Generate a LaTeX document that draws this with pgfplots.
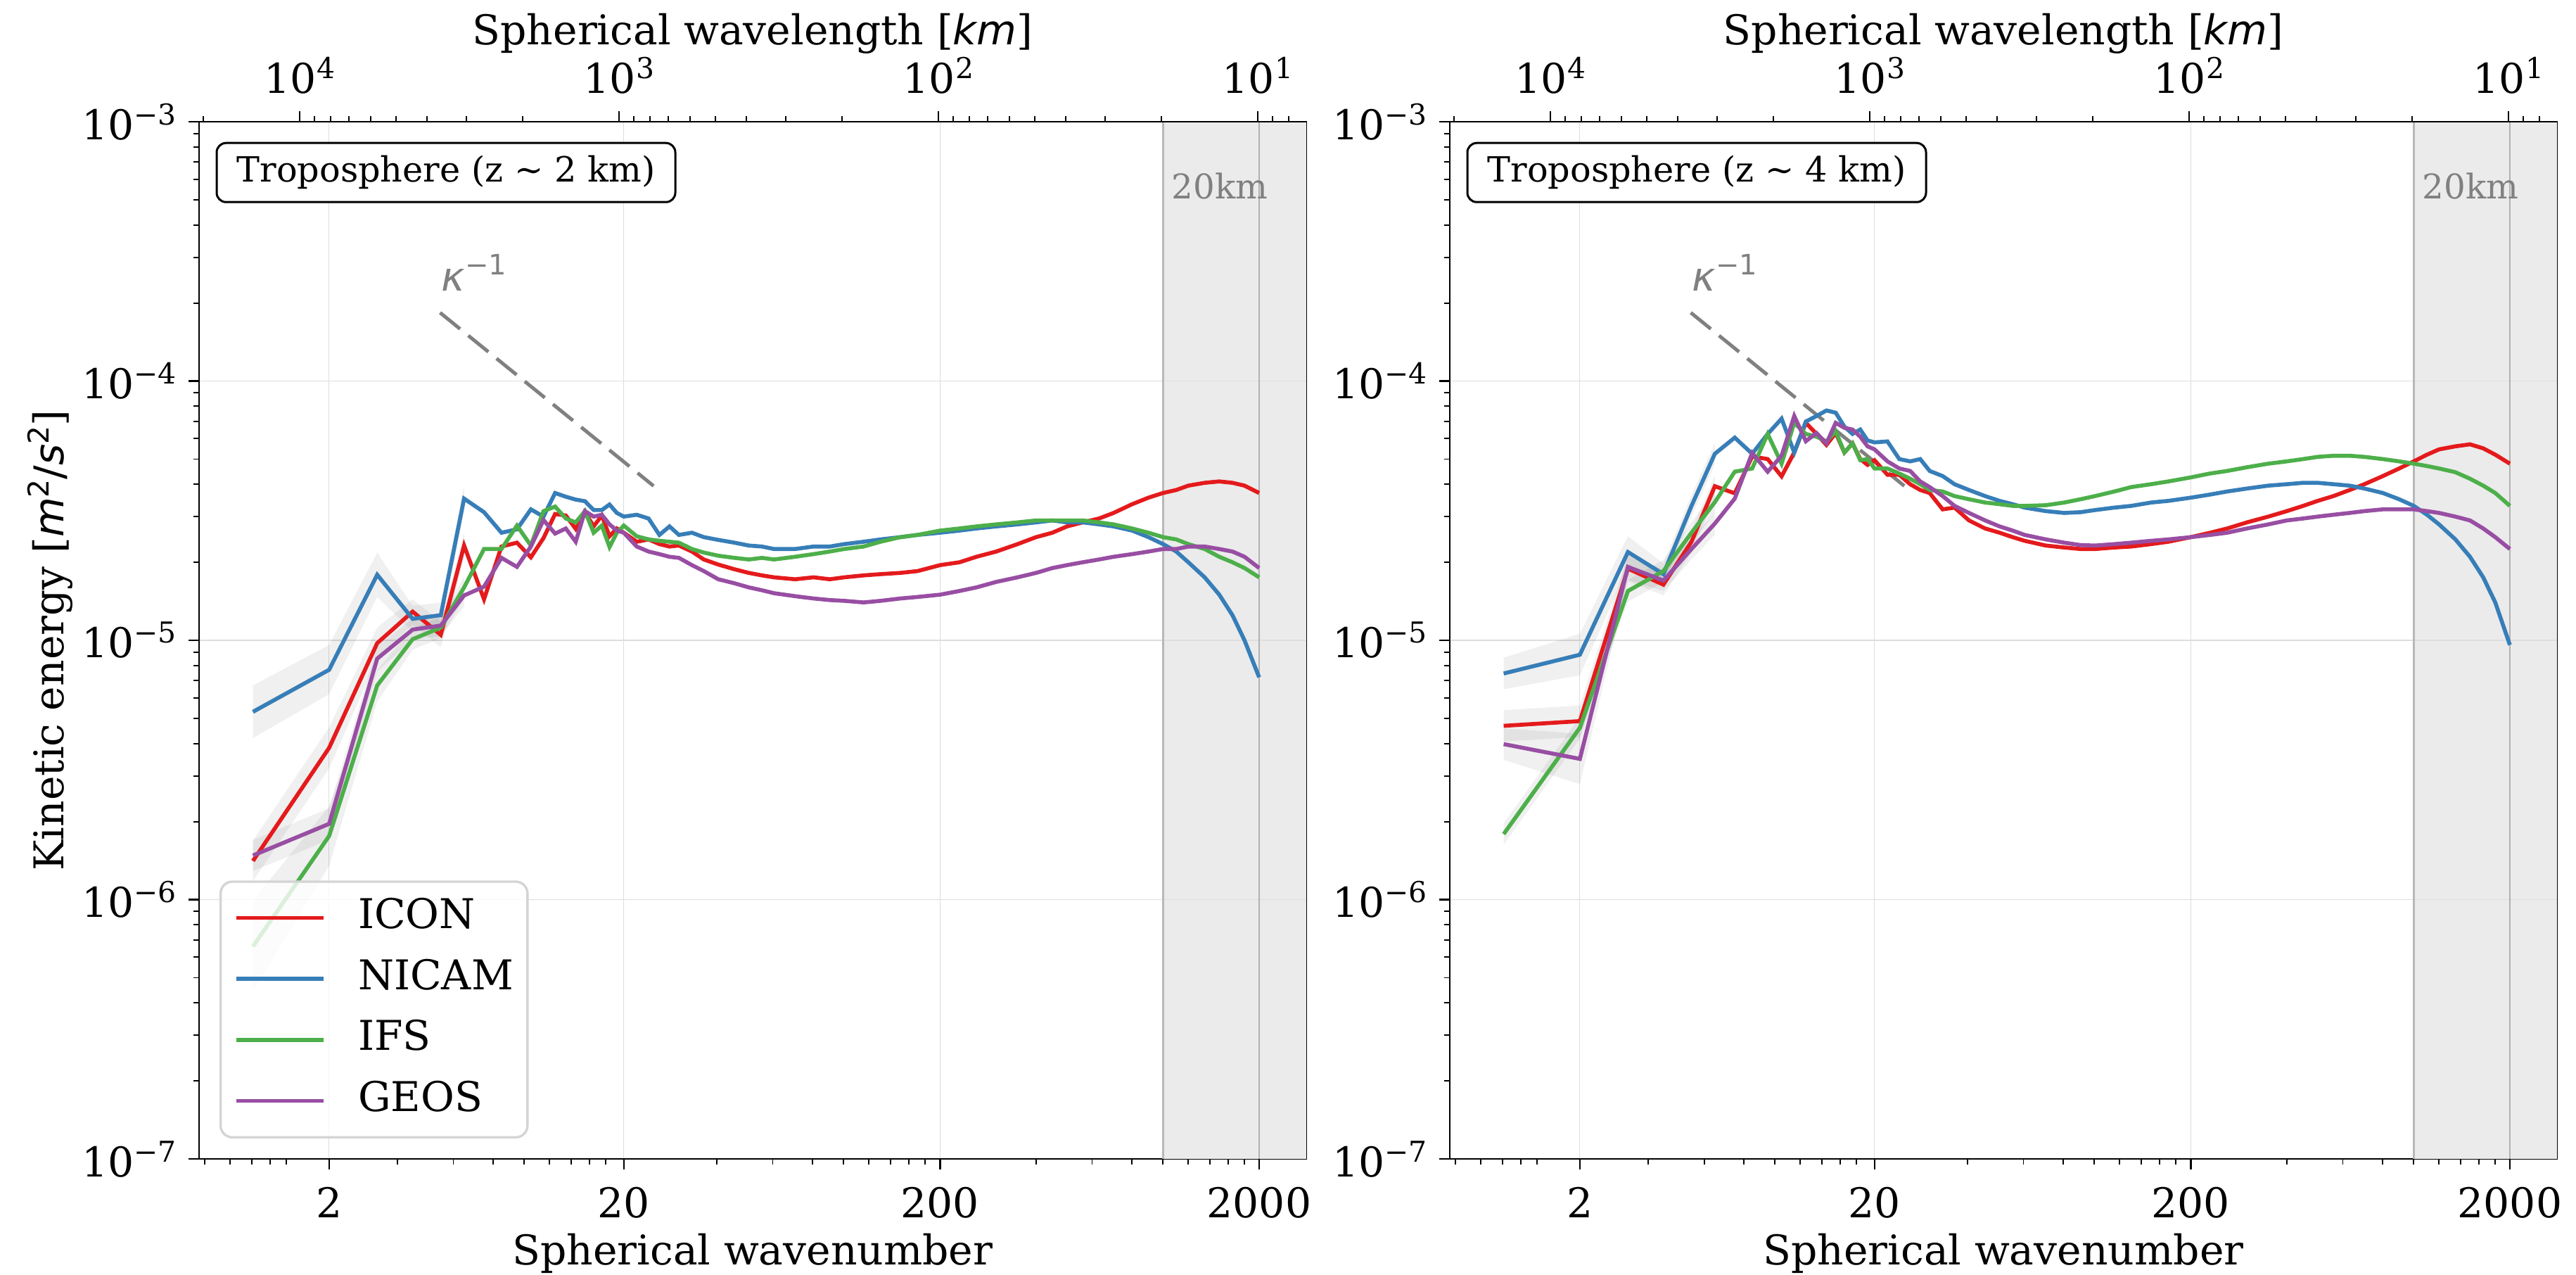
\documentclass[border=0pt]{standalone}
\usepackage{fontspec}
\setmainfont{DejaVu Serif}
\newfontfamily\dvsans{DejaVu Sans}
\usepackage{pgfplots}
\usepackage{pgfplotstable}
\pgfplotsset{compat=1.18}

\definecolor{cicon}{HTML}{E41A1C}
\definecolor{cnicam}{HTML}{377EB8}
\definecolor{cifs}{HTML}{4DAF4A}
\definecolor{cgeos}{HTML}{984EA3}
\definecolor{shadecol}{HTML}{EBEBEB}
\definecolor{gridc}{HTML}{DEDEDE}
\definecolor{txtgray}{HTML}{808080}
\definecolor{vlinec}{HTML}{B8B8B8}

\newcommand\fs{\fontsize{17.5}{21}\selectfont}
\newcommand\tsup[1]{\raisebox{6.3pt}{\fontsize{12.25}{14}\selectfont #1}}

% k = sqrt(n(n+1)) (effective wavenumber), energies in m^2/s^2
\pgfplotstableread{
k icon nicam ifs geos
1.414 1.41e-6 5.3e-6 6.6e-7 1.48e-6
2.449 3.85e-6 7.7e-6 1.76e-6 1.96e-6
3.464 9.75e-6 1.79e-5 6.7e-6 8.5e-6
4.472 1.29e-5 1.21e-5 1.01e-5 1.1e-5
5.477 1.05e-5 1.25e-5 1.12e-5 1.14e-5
6.481 2.32e-5 3.52e-5 1.6e-5 1.49e-5
7.483 1.44e-5 3.12e-5 2.25e-5 1.61e-5
8.485 2.3e-5 2.6e-5 2.25e-5 2.08e-5
9.487 2.38e-5 2.68e-5 2.77e-5 1.92e-5
10.488 2.09e-5 3.2e-5 2.32e-5 2.3e-5
11.489 2.48e-5 3.0e-5 3.15e-5 2.91e-5
12.490 3.07e-5 3.7e-5 3.28e-5 2.58e-5
13.491 3.03e-5 3.58e-5 2.95e-5 2.7e-5
14.491 2.69e-5 3.49e-5 2.85e-5 2.4e-5
15.492 3.13e-5 3.44e-5 3.15e-5 3.15e-5
16.492 2.75e-5 3.18e-5 2.6e-5 3.0e-5
17.493 3.03e-5 3.18e-5 2.77e-5 3.05e-5
18.493 2.52e-5 3.34e-5 2.29e-5 2.8e-5
19.494 2.7e-5 3.1e-5 2.6e-5 2.65e-5
20.494 2.6e-5 3.0e-5 2.77e-5 2.6e-5
22.5 2.4e-5 3.05e-5 2.52e-5 2.3e-5
24.5 2.45e-5 2.95e-5 2.45e-5 2.2e-5
26.5 2.35e-5 2.55e-5 2.42e-5 2.15e-5
28.5 2.3e-5 2.75e-5 2.4e-5 2.1e-5
30.5 2.32e-5 2.55e-5 2.38e-5 2.08e-5
33.5 2.2e-5 2.6e-5 2.25e-5 1.95e-5
36.5 2.05e-5 2.5e-5 2.18e-5 1.85e-5
40.5 1.96e-5 2.44e-5 2.12e-5 1.72e-5
45.5 1.88e-5 2.38e-5 2.08e-5 1.66e-5
50.5 1.82e-5 2.32e-5 2.05e-5 1.6e-5
55.5 1.78e-5 2.3e-5 2.08e-5 1.56e-5
60.5 1.75e-5 2.25e-5 2.05e-5 1.52e-5
70.5 1.72e-5 2.25e-5 2.1e-5 1.48e-5
80.5 1.75e-5 2.3e-5 2.15e-5 1.45e-5
90.5 1.72e-5 2.3e-5 2.2e-5 1.43e-5
100.5 1.75e-5 2.35e-5 2.25e-5 1.42e-5
115.5 1.78e-5 2.4e-5 2.3e-5 1.4e-5
130.5 1.8e-5 2.45e-5 2.4e-5 1.42e-5
150.5 1.82e-5 2.5e-5 2.5e-5 1.45e-5
170.5 1.85e-5 2.55e-5 2.55e-5 1.47e-5
200.5 1.95e-5 2.6e-5 2.65e-5 1.5e-5
230.5 2.0e-5 2.65e-5 2.7e-5 1.55e-5
260.5 2.1e-5 2.7e-5 2.75e-5 1.6e-5
300.5 2.2e-5 2.75e-5 2.8e-5 1.68e-5
350.5 2.35e-5 2.8e-5 2.85e-5 1.75e-5
400.5 2.5e-5 2.85e-5 2.9e-5 1.82e-5
450.5 2.6e-5 2.9e-5 2.9e-5 1.9e-5
500.5 2.75e-5 2.85e-5 2.9e-5 1.95e-5
560.5 2.85e-5 2.85e-5 2.9e-5 2.0e-5
630.5 2.95e-5 2.8e-5 2.85e-5 2.05e-5
700.5 3.1e-5 2.75e-5 2.8e-5 2.1e-5
800.5 3.35e-5 2.65e-5 2.7e-5 2.15e-5
900.5 3.55e-5 2.5e-5 2.6e-5 2.2e-5
1000.5 3.7e-5 2.35e-5 2.5e-5 2.25e-5
1100.5 3.8e-5 2.2e-5 2.45e-5 2.25e-5
1200.5 3.95e-5 2.0e-5 2.35e-5 2.3e-5
1350.5 4.05e-5 1.75e-5 2.25e-5 2.3e-5
1500.5 4.1e-5 1.5e-5 2.1e-5 2.25e-5
1650.5 4.05e-5 1.25e-5 2.0e-5 2.2e-5
1800.5 3.95e-5 1.0e-5 1.9e-5 2.1e-5
2000.5 3.7e-5 7.2e-6 1.75e-5 1.9e-5
}\tabA

\pgfplotstableread{
k icon nicam ifs geos
1.414 4.68e-6 7.45e-6 1.79e-6 3.98e-6
2.449 4.88e-6 8.8e-6 4.6e-6 3.49e-6
3.464 1.89e-5 2.19e-5 1.55e-5 1.92e-5
4.472 1.64e-5 1.8e-5 1.85e-5 1.7e-5
5.477 2.4e-5 3.3e-5 2.6e-5 2.25e-5
6.481 3.93e-5 5.24e-5 3.41e-5 2.82e-5
7.483 3.69e-5 6.05e-5 4.47e-5 3.52e-5
8.485 5.12e-5 5.24e-5 4.6e-5 5.28e-5
9.487 5.0e-5 6.25e-5 6.25e-5 4.47e-5
10.488 4.29e-5 7.16e-5 4.8e-5 5.15e-5
11.489 5.3e-5 5.3e-5 6.9e-5 7.33e-5
12.490 6.9e-5 6.98e-5 6.25e-5 5.86e-5
13.491 6.25e-5 7.33e-5 6.1e-5 6.3e-5
14.491 5.67e-5 7.7e-5 5.85e-5 5.75e-5
15.492 6.3e-5 7.55e-5 6.4e-5 6.9e-5
16.492 5.3e-5 6.67e-5 5.3e-5 6.6e-5
17.493 5.75e-5 6.25e-5 5.75e-5 6.5e-5
18.493 5.0e-5 6.5e-5 4.95e-5 6.1e-5
19.494 4.75e-5 5.9e-5 5.0e-5 5.6e-5
20.494 4.95e-5 5.8e-5 4.6e-5 5.45e-5
22.5 4.35e-5 5.85e-5 4.6e-5 4.9e-5
24.5 4.35e-5 5.0e-5 4.4e-5 4.6e-5
26.5 4.0e-5 4.9e-5 4.2e-5 4.5e-5
28.5 3.8e-5 5.0e-5 4.0e-5 4.1e-5
30.5 3.7e-5 4.5e-5 3.8e-5 3.9e-5
33.5 3.2e-5 4.3e-5 3.75e-5 3.6e-5
36.5 3.25e-5 4.0e-5 3.6e-5 3.3e-5
40.5 2.9e-5 3.8e-5 3.5e-5 3.1e-5
45.5 2.7e-5 3.6e-5 3.4e-5 2.9e-5
50.5 2.6e-5 3.45e-5 3.35e-5 2.75e-5
55.5 2.5e-5 3.35e-5 3.3e-5 2.65e-5
60.5 2.42e-5 3.25e-5 3.3e-5 2.55e-5
70.5 2.32e-5 3.15e-5 3.32e-5 2.45e-5
80.5 2.28e-5 3.1e-5 3.4e-5 2.38e-5
90.5 2.25e-5 3.12e-5 3.5e-5 2.33e-5
100.5 2.25e-5 3.18e-5 3.6e-5 2.32e-5
115.5 2.28e-5 3.25e-5 3.75e-5 2.35e-5
130.5 2.3e-5 3.3e-5 3.9e-5 2.38e-5
150.5 2.35e-5 3.4e-5 4.0e-5 2.42e-5
170.5 2.4e-5 3.45e-5 4.1e-5 2.45e-5
200.5 2.5e-5 3.55e-5 4.25e-5 2.5e-5
230.5 2.6e-5 3.65e-5 4.4e-5 2.55e-5
260.5 2.7e-5 3.75e-5 4.5e-5 2.6e-5
300.5 2.85e-5 3.85e-5 4.65e-5 2.7e-5
350.5 3.0e-5 3.95e-5 4.8e-5 2.8e-5
400.5 3.15e-5 4.0e-5 4.9e-5 2.9e-5
450.5 3.3e-5 4.05e-5 5.0e-5 2.95e-5
500.5 3.45e-5 4.05e-5 5.1e-5 3.0e-5
560.5 3.6e-5 4.0e-5 5.15e-5 3.05e-5
630.5 3.8e-5 3.95e-5 5.15e-5 3.1e-5
700.5 4.0e-5 3.85e-5 5.1e-5 3.15e-5
800.5 4.3e-5 3.7e-5 5.0e-5 3.2e-5
900.5 4.6e-5 3.5e-5 4.9e-5 3.2e-5
1000.5 4.9e-5 3.3e-5 4.8e-5 3.2e-5
1100.5 5.2e-5 3.05e-5 4.7e-5 3.15e-5
1200.5 5.45e-5 2.8e-5 4.6e-5 3.1e-5
1350.5 5.6e-5 2.45e-5 4.45e-5 3.0e-5
1500.5 5.7e-5 2.1e-5 4.2e-5 2.9e-5
1650.5 5.5e-5 1.75e-5 3.95e-5 2.7e-5
1800.5 5.2e-5 1.4e-5 3.7e-5 2.5e-5
2000.5 4.8e-5 9.6e-6 3.3e-5 2.25e-5
}\tabB

\begin{document}
\begin{tikzpicture}
\path[use as bounding box] (-84.9pt,-49.5pt) rectangle (1013.7pt,494.1pt);

% ---------------- left panel ----------------
\begin{axis}[at={(0pt,0pt)}, anchor=south west,
    scale only axis, width=472.2pt, height=442.2pt,
    tick align=outside,
    major tick length=4.5pt, minor tick length=2.4pt,
    every tick/.append style={black, line width=0.75pt},
    every minor tick/.append style={line width=0.55pt},
    axis line style={line width=0.8pt},
    tick label style={font=\fs},
    label style={font=\fs},
    xmode=log, ymode=log,
    xmin=0.9588, xmax=2810, ymin=1e-7, ymax=1e-3,
    xtick={2.449,20.494,200.5,2000.5}, xticklabels={2,20,200,2000},
    minor xtick={1,1.2,1.4,1.6,1.8,4,6,8,10,12,14,16,18,40,60,80,100,120,140,160,180,400,600,800,1000,1200,1400,1600,1800},
    ytick={1e-7,1e-6,1e-5,1e-4,1e-3},
    yticklabels={10\tsup{−7},10\tsup{−6},10\tsup{−5},10\tsup{−4},10\tsup{−3}},
    minor ytick={2e-7,3e-7,4e-7,5e-7,6e-7,7e-7,8e-7,9e-7,2e-6,3e-6,4e-6,5e-6,6e-6,7e-6,8e-6,9e-6,2e-5,3e-5,4e-5,5e-5,6e-5,7e-5,8e-5,9e-5,2e-4,3e-4,4e-4,5e-4,6e-4,7e-4,8e-4,9e-4},
    xtick pos=left, ytick pos=left,
    xmajorgrids, ymajorgrids,
    major grid style={gridc, line width=0.35pt},
    xticklabel style={yshift=-4.1pt},
    yticklabel style={xshift=-1.7pt},
    xlabel={Spherical wavenumber},
    xlabel style={at={(axis description cs:0.5,-0.1018)}, anchor=base},
    ylabel={Kinetic energy [{\dvsans\itshape m\tsup{\upshape 2}\upshape/\itshape s\tsup{\upshape 2}}]},
    ylabel style={at={(axis description cs:-0.1226,0.5)}, rotate=0, anchor=base},
    legend style={at={(0.0184,0.0197)}, anchor=south west, draw=black!17, line width=1pt,
      rounded corners=5pt, fill=white, fill opacity=0.8, text opacity=1, font=\fs,
      inner xsep=6pt, inner ysep=7pt, row sep=9pt,
      nodes={inner sep=0pt, text height=13pt, text depth=4pt},
      /tikz/every odd column/.append style={column sep=14pt}},
    legend image code/.code={\draw[#1] (0pt,0pt) -- (37pt,0pt);},
    legend cell align=left]
\addplot[draw=none, fill=shadecol, forget plot] coordinates {(1000,1e-7) (2810,1e-7) (2810,1e-3) (1000,1e-3)} -- cycle;
\addplot[gridc, line width=0.35pt, forget plot] coordinates {(1000,1e-6) (2810,1e-6)};
\addplot[gridc, line width=0.35pt, forget plot] coordinates {(1000,1e-5) (2810,1e-5)};
\addplot[gridc, line width=0.35pt, forget plot] coordinates {(1000,1e-4) (2810,1e-4)};
\addplot[gridc!80!black, line width=0.35pt, forget plot] coordinates {(2000.5,1e-7) (2000.5,1e-3)};
\addplot[vlinec, line width=1pt, forget plot] coordinates {(1000,1e-7) (1000,1e-3)};
% spread bands (low wavenumbers)
\addplot[draw=none, fill=black, fill opacity=0.06, forget plot] coordinates {(1.414,1.69e-6) (2.449,4.62e-6) (3.464,1.12e-5) (4.472,1.44e-5) (5.477,1.18e-5) (6.481,2.6e-5) (6.481,2.07e-5) (5.477,9.4e-6) (4.472,1.15e-5) (3.464,8.48e-6) (2.449,3.21e-6) (1.414,1.18e-6)} -- cycle;
\addplot[draw=none, fill=black, fill opacity=0.06, forget plot] coordinates {(1.414,6.7e-6) (2.449,9.6e-6) (3.464,2.18e-5) (4.472,1.36e-5) (5.477,1.4e-5) (6.481,3.94e-5) (6.481,3.14e-5) (5.477,1.12e-5) (4.472,1.08e-5) (3.464,1.47e-5) (2.449,6.2e-6) (1.414,4.2e-6)} -- cycle;
\addplot[draw=none, fill=black, fill opacity=0.06, forget plot] coordinates {(1.414,9.9e-7) (2.449,2.29e-6) (3.464,7.7e-6) (4.472,1.11e-5) (5.477,1.23e-5) (6.481,1.76e-5) (6.481,1.45e-5) (5.477,1.02e-5) (4.472,9.2e-6) (3.464,5.8e-6) (2.449,1.35e-6) (1.414,4.4e-7)} -- cycle;
\addplot[draw=none, fill=black, fill opacity=0.06, forget plot] coordinates {(1.414,1.7e-6) (2.449,2.25e-6) (3.464,9.5e-6) (4.472,1.21e-5) (5.477,1.25e-5) (6.481,1.64e-5) (6.481,1.35e-5) (5.477,1.04e-5) (4.472,1.0e-5) (3.464,7.6e-6) (2.449,1.7e-6) (1.414,1.29e-6)} -- cycle;
\addplot[txtgray, line width=1.5pt, dash pattern=on 11pt off 4.5pt, forget plot] coordinates {(5.45,1.835e-4) (25.4,3.94e-5)};
\addplot[cicon, line width=1.7pt] table[x=k, y=icon] {\tabA}; \addlegendentry{ICON}
\addplot[cnicam, line width=1.7pt] table[x=k, y=nicam] {\tabA}; \addlegendentry{NICAM}
\addplot[cifs, line width=1.7pt] table[x=k, y=ifs] {\tabA}; \addlegendentry{IFS}
\addplot[cgeos, line width=1.7pt] table[x=k, y=geos] {\tabA}; \addlegendentry{GEOS}
\node[draw, rounded corners=4pt, line width=0.9pt, fill=white, minimum width=195.6pt, minimum height=25.2pt, inner sep=0pt, font=\fontsize{14.8}{17}\selectfont] at (axis description cs:0.223,0.951) {Troposphere (z \textasciitilde{} 2 km)};
\node[txtgray, anchor=base west, xshift=3.6pt, font=\fontsize{14.5}{17}\selectfont, inner sep=0pt] at (axis cs:1000,5.06e-4) {20km};
\node[txtgray, anchor=base west, inner sep=0pt, font=\fontsize{17}{20}\selectfont] at (axis cs:5.49,2.22e-4) {{\dvsans\itshape κ}\raisebox{7pt}{\dvsans\fontsize{12}{14}\selectfont −1}};
\end{axis}

\begin{axis}[at={(0pt,0pt)}, anchor=south west,
    scale only axis, width=472.2pt, height=442.2pt,
    tick align=outside,
    major tick length=4.5pt, minor tick length=2.4pt,
    every tick/.append style={black, line width=0.75pt},
    every minor tick/.append style={line width=0.55pt},
    axis line style={line width=0.8pt},
    tick label style={font=\fs},
    label style={font=\fs},
    xmode=log, x dir=reverse, xmin=7.046, xmax=20651,
    ymin=0, ymax=1,
    axis x line*=top, axis y line=none,
    xtick={10,100,1000,10000},
    xticklabels={10\tsup{1},10\tsup{2},10\tsup{3},10\tsup{4}},
    minor xtick={8,9,20,30,40,50,60,70,80,90,200,300,400,500,600,700,800,900,2000,3000,4000,5000,6000,7000,8000,9000,20000},
    xticklabel style={yshift=3.9pt},
    xlabel={Spherical wavelength [{\dvsans\itshape km}]},
    xlabel style={at={(axis description cs:0.5,1.0746)}, anchor=base}]
\addplot[draw=none] coordinates {(100,0.5)};
\end{axis}

% ---------------- right panel ----------------
\begin{axis}[at={(533.4pt,0pt)}, anchor=south west,
    scale only axis, width=472.2pt, height=442.2pt,
    tick align=outside,
    major tick length=4.5pt, minor tick length=2.4pt,
    every tick/.append style={black, line width=0.75pt},
    every minor tick/.append style={line width=0.55pt},
    axis line style={line width=0.8pt},
    tick label style={font=\fs},
    label style={font=\fs},
    xmode=log, ymode=log,
    xmin=0.9588, xmax=2810, ymin=1e-7, ymax=1e-3,
    xtick={2.449,20.494,200.5,2000.5}, xticklabels={2,20,200,2000},
    minor xtick={1,1.2,1.4,1.6,1.8,4,6,8,10,12,14,16,18,40,60,80,100,120,140,160,180,400,600,800,1000,1200,1400,1600,1800},
    ytick={1e-7,1e-6,1e-5,1e-4,1e-3},
    yticklabels={10\tsup{−7},10\tsup{−6},10\tsup{−5},10\tsup{−4},10\tsup{−3}},
    minor ytick={2e-7,3e-7,4e-7,5e-7,6e-7,7e-7,8e-7,9e-7,2e-6,3e-6,4e-6,5e-6,6e-6,7e-6,8e-6,9e-6,2e-5,3e-5,4e-5,5e-5,6e-5,7e-5,8e-5,9e-5,2e-4,3e-4,4e-4,5e-4,6e-4,7e-4,8e-4,9e-4},
    xtick pos=left, ytick pos=left,
    xmajorgrids, ymajorgrids,
    major grid style={gridc, line width=0.35pt},
    xticklabel style={yshift=-4.1pt},
    yticklabel style={xshift=-1.7pt},
    xlabel={Spherical wavenumber},
    xlabel style={at={(axis description cs:0.5,-0.1018)}, anchor=base}]
\addplot[draw=none, fill=shadecol, forget plot] coordinates {(1000,1e-7) (2810,1e-7) (2810,1e-3) (1000,1e-3)} -- cycle;
\addplot[gridc, line width=0.35pt, forget plot] coordinates {(1000,1e-6) (2810,1e-6)};
\addplot[gridc, line width=0.35pt, forget plot] coordinates {(1000,1e-5) (2810,1e-5)};
\addplot[gridc, line width=0.35pt, forget plot] coordinates {(1000,1e-4) (2810,1e-4)};
\addplot[gridc!80!black, line width=0.35pt, forget plot] coordinates {(2000.5,1e-7) (2000.5,1e-3)};
\addplot[vlinec, line width=1pt, forget plot] coordinates {(1000,1e-7) (1000,1e-3)};
% spread bands (low wavenumbers)
\addplot[draw=none, fill=black, fill opacity=0.06, forget plot] coordinates {(1.414,5.38e-6) (2.449,5.61e-6) (3.464,2.12e-5) (4.472,1.8e-5) (5.477,2.64e-5) (6.481,4.32e-5) (6.481,3.57e-5) (5.477,2.18e-5) (4.472,1.49e-5) (3.464,1.69e-5) (2.449,4.24e-6) (1.414,4.07e-6)} -- cycle;
\addplot[draw=none, fill=black, fill opacity=0.06, forget plot] coordinates {(1.414,8.57e-6) (2.449,1.06e-5) (3.464,2.52e-5) (4.472,1.98e-5) (5.477,3.63e-5) (6.481,5.76e-5) (6.481,4.76e-5) (5.477,3.0e-5) (4.472,1.64e-5) (3.464,1.9e-5) (2.449,7.33e-6) (1.414,6.48e-6)} -- cycle;
\addplot[draw=none, fill=black, fill opacity=0.06, forget plot] coordinates {(1.414,1.97e-6) (2.449,5.06e-6) (3.464,1.71e-5) (4.472,2.04e-5) (5.477,2.86e-5) (6.481,3.75e-5) (6.481,3.1e-5) (5.477,2.36e-5) (4.472,1.68e-5) (3.464,1.41e-5) (2.449,4.18e-6) (1.414,1.63e-6)} -- cycle;
\addplot[draw=none, fill=black, fill opacity=0.06, forget plot] coordinates {(1.414,4.58e-6) (2.449,4.36e-6) (3.464,2.15e-5) (4.472,1.87e-5) (5.477,2.48e-5) (6.481,3.1e-5) (6.481,2.56e-5) (5.477,2.05e-5) (4.472,1.55e-5) (3.464,1.71e-5) (2.449,2.79e-6) (1.414,3.46e-6)} -- cycle;
\addplot[txtgray, line width=1.5pt, dash pattern=on 11pt off 4.5pt, forget plot] coordinates {(5.45,1.835e-4) (25.4,3.94e-5)};
\addplot[cicon, line width=1.7pt] table[x=k, y=icon] {\tabB};
\addplot[cnicam, line width=1.7pt] table[x=k, y=nicam] {\tabB};
\addplot[cifs, line width=1.7pt] table[x=k, y=ifs] {\tabB};
\addplot[cgeos, line width=1.7pt] table[x=k, y=geos] {\tabB};
\node[draw, rounded corners=4pt, line width=0.9pt, fill=white, minimum width=195.6pt, minimum height=25.2pt, inner sep=0pt, font=\fontsize{14.8}{17}\selectfont] at (axis description cs:0.223,0.951) {Troposphere (z \textasciitilde{} 4 km)};
\node[txtgray, anchor=base west, xshift=3.6pt, font=\fontsize{14.5}{17}\selectfont, inner sep=0pt] at (axis cs:1000,5.06e-4) {20km};
\node[txtgray, anchor=base west, inner sep=0pt, font=\fontsize{17}{20}\selectfont] at (axis cs:5.49,2.22e-4) {{\dvsans\itshape κ}\raisebox{7pt}{\dvsans\fontsize{12}{14}\selectfont −1}};
\end{axis}

\begin{axis}[at={(533.4pt,0pt)}, anchor=south west,
    scale only axis, width=472.2pt, height=442.2pt,
    tick align=outside,
    major tick length=4.5pt, minor tick length=2.4pt,
    every tick/.append style={black, line width=0.75pt},
    every minor tick/.append style={line width=0.55pt},
    axis line style={line width=0.8pt},
    tick label style={font=\fs},
    label style={font=\fs},
    xmode=log, x dir=reverse, xmin=7.046, xmax=20651,
    ymin=0, ymax=1,
    axis x line*=top, axis y line=none,
    xtick={10,100,1000,10000},
    xticklabels={10\tsup{1},10\tsup{2},10\tsup{3},10\tsup{4}},
    minor xtick={8,9,20,30,40,50,60,70,80,90,200,300,400,500,600,700,800,900,2000,3000,4000,5000,6000,7000,8000,9000,20000},
    xticklabel style={yshift=3.9pt},
    xlabel={Spherical wavelength [{\dvsans\itshape km}]},
    xlabel style={at={(axis description cs:0.5,1.0746)}, anchor=base}]
\addplot[draw=none] coordinates {(100,0.5)};
\end{axis}
\end{tikzpicture}
\end{document}
